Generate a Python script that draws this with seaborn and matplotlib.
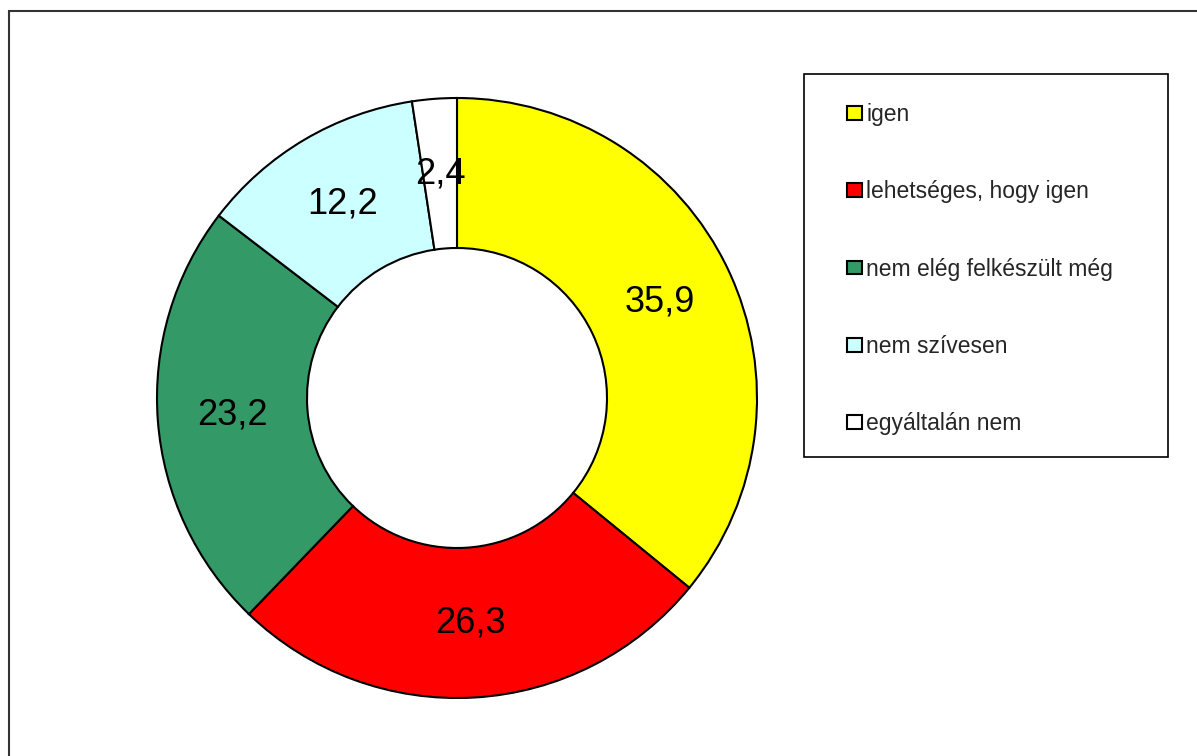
import matplotlib
matplotlib.use("Agg")
import matplotlib.pyplot as plt
from matplotlib.patches import Rectangle
import seaborn as sns

# Survey answers and their shares (%)
categories = ["igen", "lehetséges, hogy igen", "nem elég felkészült még",
              "nem szívesen", "egyáltalán nem"]
shares = [35.9, 26.3, 23.2, 12.2, 2.4]
colors = ["#FFFF00", "#FF0000", "#339966", "#CCFFFF", "#FFFFFF"]

sns.set_theme(style="white")
plt.rcParams["font.family"] = ["Liberation Sans", "DejaVu Sans"]

W, H = 1197, 756
fig = plt.figure(figsize=(W / 100, H / 100), dpi=100)
fig.patch.set_facecolor("white")

# Outer chart frame
fig.add_artist(Rectangle((9 / W, -0.02), 1.05, 1 - 11 / H + 0.02,
                         transform=fig.transFigure, fill=False,
                         edgecolor="#333333", linewidth=1.5))

# Doughnut axes: centre (457, 398) px, outer radius 300 px
cx, cy, r = 457, 398, 300
pad = 1.03
half = r * pad
ax = fig.add_axes([(cx - half) / W, (H - cy - half) / H, 2 * half / W, 2 * half / H])
wedges, texts, autotexts = ax.pie(
    shares, colors=colors, startangle=90, counterclock=False,
    autopct=lambda p: f"{p:.1f}".replace(".", ","), pctdistance=0.75,
    wedgeprops=dict(width=0.5, edgecolor="black", linewidth=1.5),
    textprops=dict(fontsize=26, color="black"))
ax.set_xlim(-pad, pad)
ax.set_ylim(-pad, pad)
ax.set_aspect("equal")
ax.axis("off")

# Legend box
lx0, ly0, lx1, ly1 = 804, 74, 1168, 457
fig.add_artist(Rectangle((lx0 / W, 1 - ly1 / H), (lx1 - lx0) / W, (ly1 - ly0) / H,
                         transform=fig.transFigure, fill=False,
                         edgecolor="black", linewidth=1.2))
leg = fig.legend(wedges, categories, loc="upper left",
                 bbox_to_anchor=(847 / W, 1 - 103 / H),
                 frameon=False, fontsize=16.5, handlelength=0.65, handleheight=0.55,
                 handletextpad=0.2, labelspacing=2.37, borderpad=0, borderaxespad=0)
for h in leg.legend_handles:
    h.set_edgecolor("black")
    h.set_linewidth(1.5)

fig.savefig("out.png", dpi=100, facecolor="white")
